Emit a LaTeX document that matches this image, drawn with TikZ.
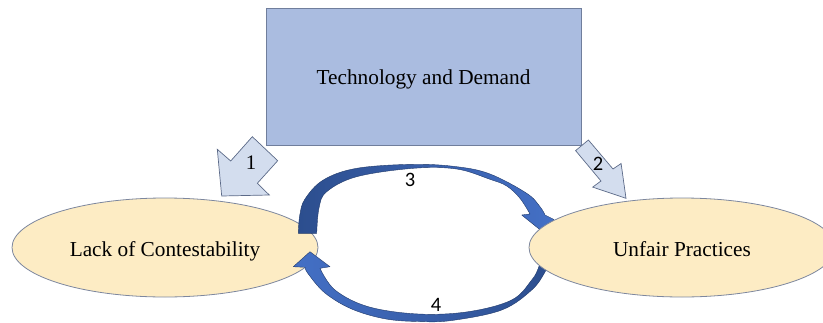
\documentclass[tikz,border=0pt]{standalone}
\usepackage{fontspec}
\setmainfont{Liberation Serif}
\newfontfamily\numfont{Carlito}
\usetikzlibrary{shapes.geometric}
\definecolor{boxfill}{RGB}{170,188,224}
\definecolor{boxline}{RGB}{112,126,156}
\definecolor{ellfill}{RGB}{253,236,196}
\definecolor{ellline}{RGB}{125,135,158}
\definecolor{bafill}{RGB}{211,221,238}
\definecolor{baline}{RGB}{92,106,136}
\definecolor{arcdark}{RGB}{44,78,142}
\definecolor{arclight}{RGB}{68,112,198}
\begin{document}
\begin{tikzpicture}[x=1pt,y=-1pt,
  every node/.style={font=\fontsize{21.3}{24}\selectfont},
  boxnode/.style={draw=boxline, fill=boxfill, line width=0.8pt,
    minimum width=315pt, minimum height=137pt, inner sep=0pt,
    text height=15pt, text depth=0pt},
  ellnode/.style={ellipse, draw=ellline, fill=ellfill, line width=0.8pt,
    minimum width=306pt, minimum height=99pt, inner sep=0pt,
    text height=17pt, text depth=0pt},
  blockarrow/.style={draw=baline, fill=bafill, line width=0.7pt, line join=miter},
  looparrow/.style={draw=arcdark!75!black, line width=0.4pt, line join=round},
  serifnum/.style={font=\rmfamily\fontsize{20.7}{22}\selectfont, inner sep=0pt},
  sansnum/.style={font=\numfont\fontsize{20.5}{22}\selectfont, inner sep=0pt}
]
\useasboundingbox (0,0) rectangle (823,322);
\clip (0,0) rectangle (823,322);

% left ellipse and top box
\node[ellnode] (lack) at (165,247.5) {Lack of Contestability};
\node[boxnode] (tech) at (423.5,76.5) {Technology and Demand};

% block arrows 1 and 2
\path[blockarrow] (252.3,136.7) -- (277.7,160.7) -- (257.3,183.3) -- (269.3,195)
  -- (221.7,196) -- (217.3,149.3) -- (230.7,161) -- cycle;
\path[blockarrow] (588.4,140) -- (613,169) -- (621.1,163.5) -- (626,198.3)
  -- (592.7,187.1) -- (601,181) -- (575.6,150.6) -- cycle;

% upper loop arrow (3)
\path[looparrow, left color=arcdark, right color=arclight]
  plot[smooth, tension=0.6] coordinates {(298.3,233.3) (299.8,215) (305,199) (323.3,180)
     (356.7,168.3) (413.3,164.3) (456.7,166.7) (490,174) (526.7,193.3) (540,206.7) (545,215)}
  -- (554,219.5) -- (543.8,232.8) -- (521.7,215)
  -- plot[smooth, tension=0.6] coordinates {(530,214) (520,198.3) (506.7,186) (490,179.3)
     (456.7,169) (413.3,168.3) (356.7,176.7) (326.7,191.7) (319,208) (316.7,233.3)}
  -- cycle;

% lower loop arrow (4)
\path[looparrow, left color=arclight, right color=arcdark]
  plot[smooth, tension=0.6] coordinates {(551,258) (545,272) (531.7,290) (501.7,310)
     (451.7,320.5) (418.3,321.5) (385,318.8) (351.7,309) (325,293) (308.3,274) (305,267.3)}
  -- (293.3,266.7) -- (310,251.7) -- (330,266.7)
  -- plot[smooth, tension=0.6] coordinates {(320,268.3) (335,290) (368.3,306.7) (418.3,314)
     (468.3,311.7) (511.7,300) (531.7,280) (538.3,268.3) (541,258)}
  -- cycle;

% right ellipse (drawn over the loop arrow ends)
\node[ellnode] (unfair) at (682,247.5) {Unfair Practices};

% numbers
\node[serifnum] (n1) at (251,163) {1};
\node[sansnum] (n2) at (598,164) {2};
\node[sansnum] (n3) at (410,179.7) {3};
\node[sansnum] (n4) at (436,305) {4};
\end{tikzpicture}
\end{document}
